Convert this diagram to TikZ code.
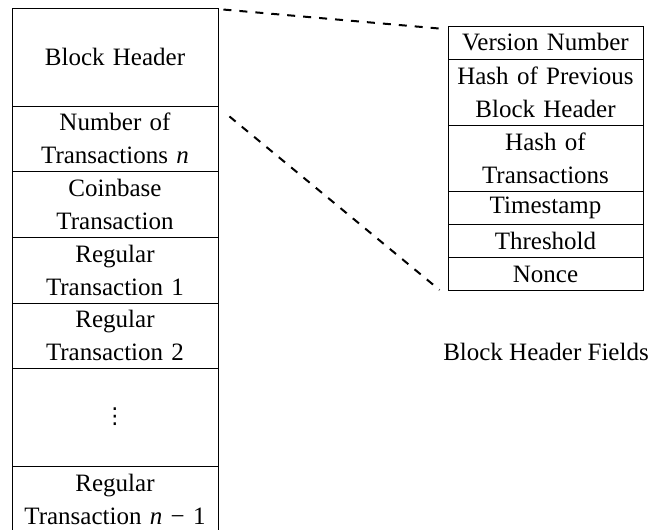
\documentclass[tikz,border=0pt]{standalone}
\usepackage{fontspec}
\setmainfont{Liberation Serif}
\newfontfamily\symfont{DejaVu Sans}
\begin{document}
\begin{tikzpicture}[x=1pt,y=-1pt,
  cell/.style={draw=black, line width=0.9pt, inner sep=0pt, align=center,
    font=\fontsize{25}{33}\selectfont},
  lcell/.style={cell, minimum width=206pt, text width=200pt},
  rcell/.style={cell, minimum width=195pt, text width=190pt},
  link/.style={line width=2pt, dash pattern=on 8pt off 8pt},
  caption/.style={font=\fontsize{25}{33}\selectfont, inner sep=0pt}]
\useasboundingbox (0,0) rectangle (654,530);

% block layout
\node[lcell, minimum height=98pt] (hdr)   at (115,57)    {Block Header};
\node[lcell, minimum height=65pt] (num)   at (115,138.5) {Number of\\Transactions \textit{n}};
\node[lcell, minimum height=66pt] (coin)  at (115,204)   {Coinbase\\Transaction};
\node[lcell, minimum height=66pt] (reg1)  at (115,270)   {Regular\\Transaction 1};
\node[lcell, minimum height=65pt] (reg2)  at (115,335.5) {Regular\\Transaction 2};
\node[lcell, minimum height=98pt] (dots)  at (115,417)   {{\symfont\fontsize{22}{22}\selectfont ⋮}};
\node[lcell, minimum height=66pt] (last)  at (115,499)   {Regular\\Transaction \textit{n} − 1};

% header fields
\node[rcell, minimum height=33pt] (ver)   at (545.5,42.5)  {Version Number};
\node[rcell, minimum height=66pt] (prev)  at (545.5,92)    {Hash of Previous\\Block Header};
\node[rcell, minimum height=66pt] (htx)   at (545.5,158)   {Hash of\\Transactions};
\node[rcell, minimum height=33pt] (ts)    at (545.5,207.5) {Timestamp};
\node[rcell, minimum height=33pt] (thr)   at (545.5,240.5) {Threshold};
\node[rcell, minimum height=33pt] (nonce) at (545.5,274)   {Nonce};

\node[caption] (cap) at (546,352) {Block Header Fields};

% zoom lines from the header to its fields
\draw[link] ([shift={(5,2)}]hdr.north east) -- ([shift={(-8,3)}]ver.north west);
\draw[link] ([shift={(11,10)}]hdr.south east) -- ([shift={(-8,-1)}]nonce.south west);
\end{tikzpicture}
\end{document}
